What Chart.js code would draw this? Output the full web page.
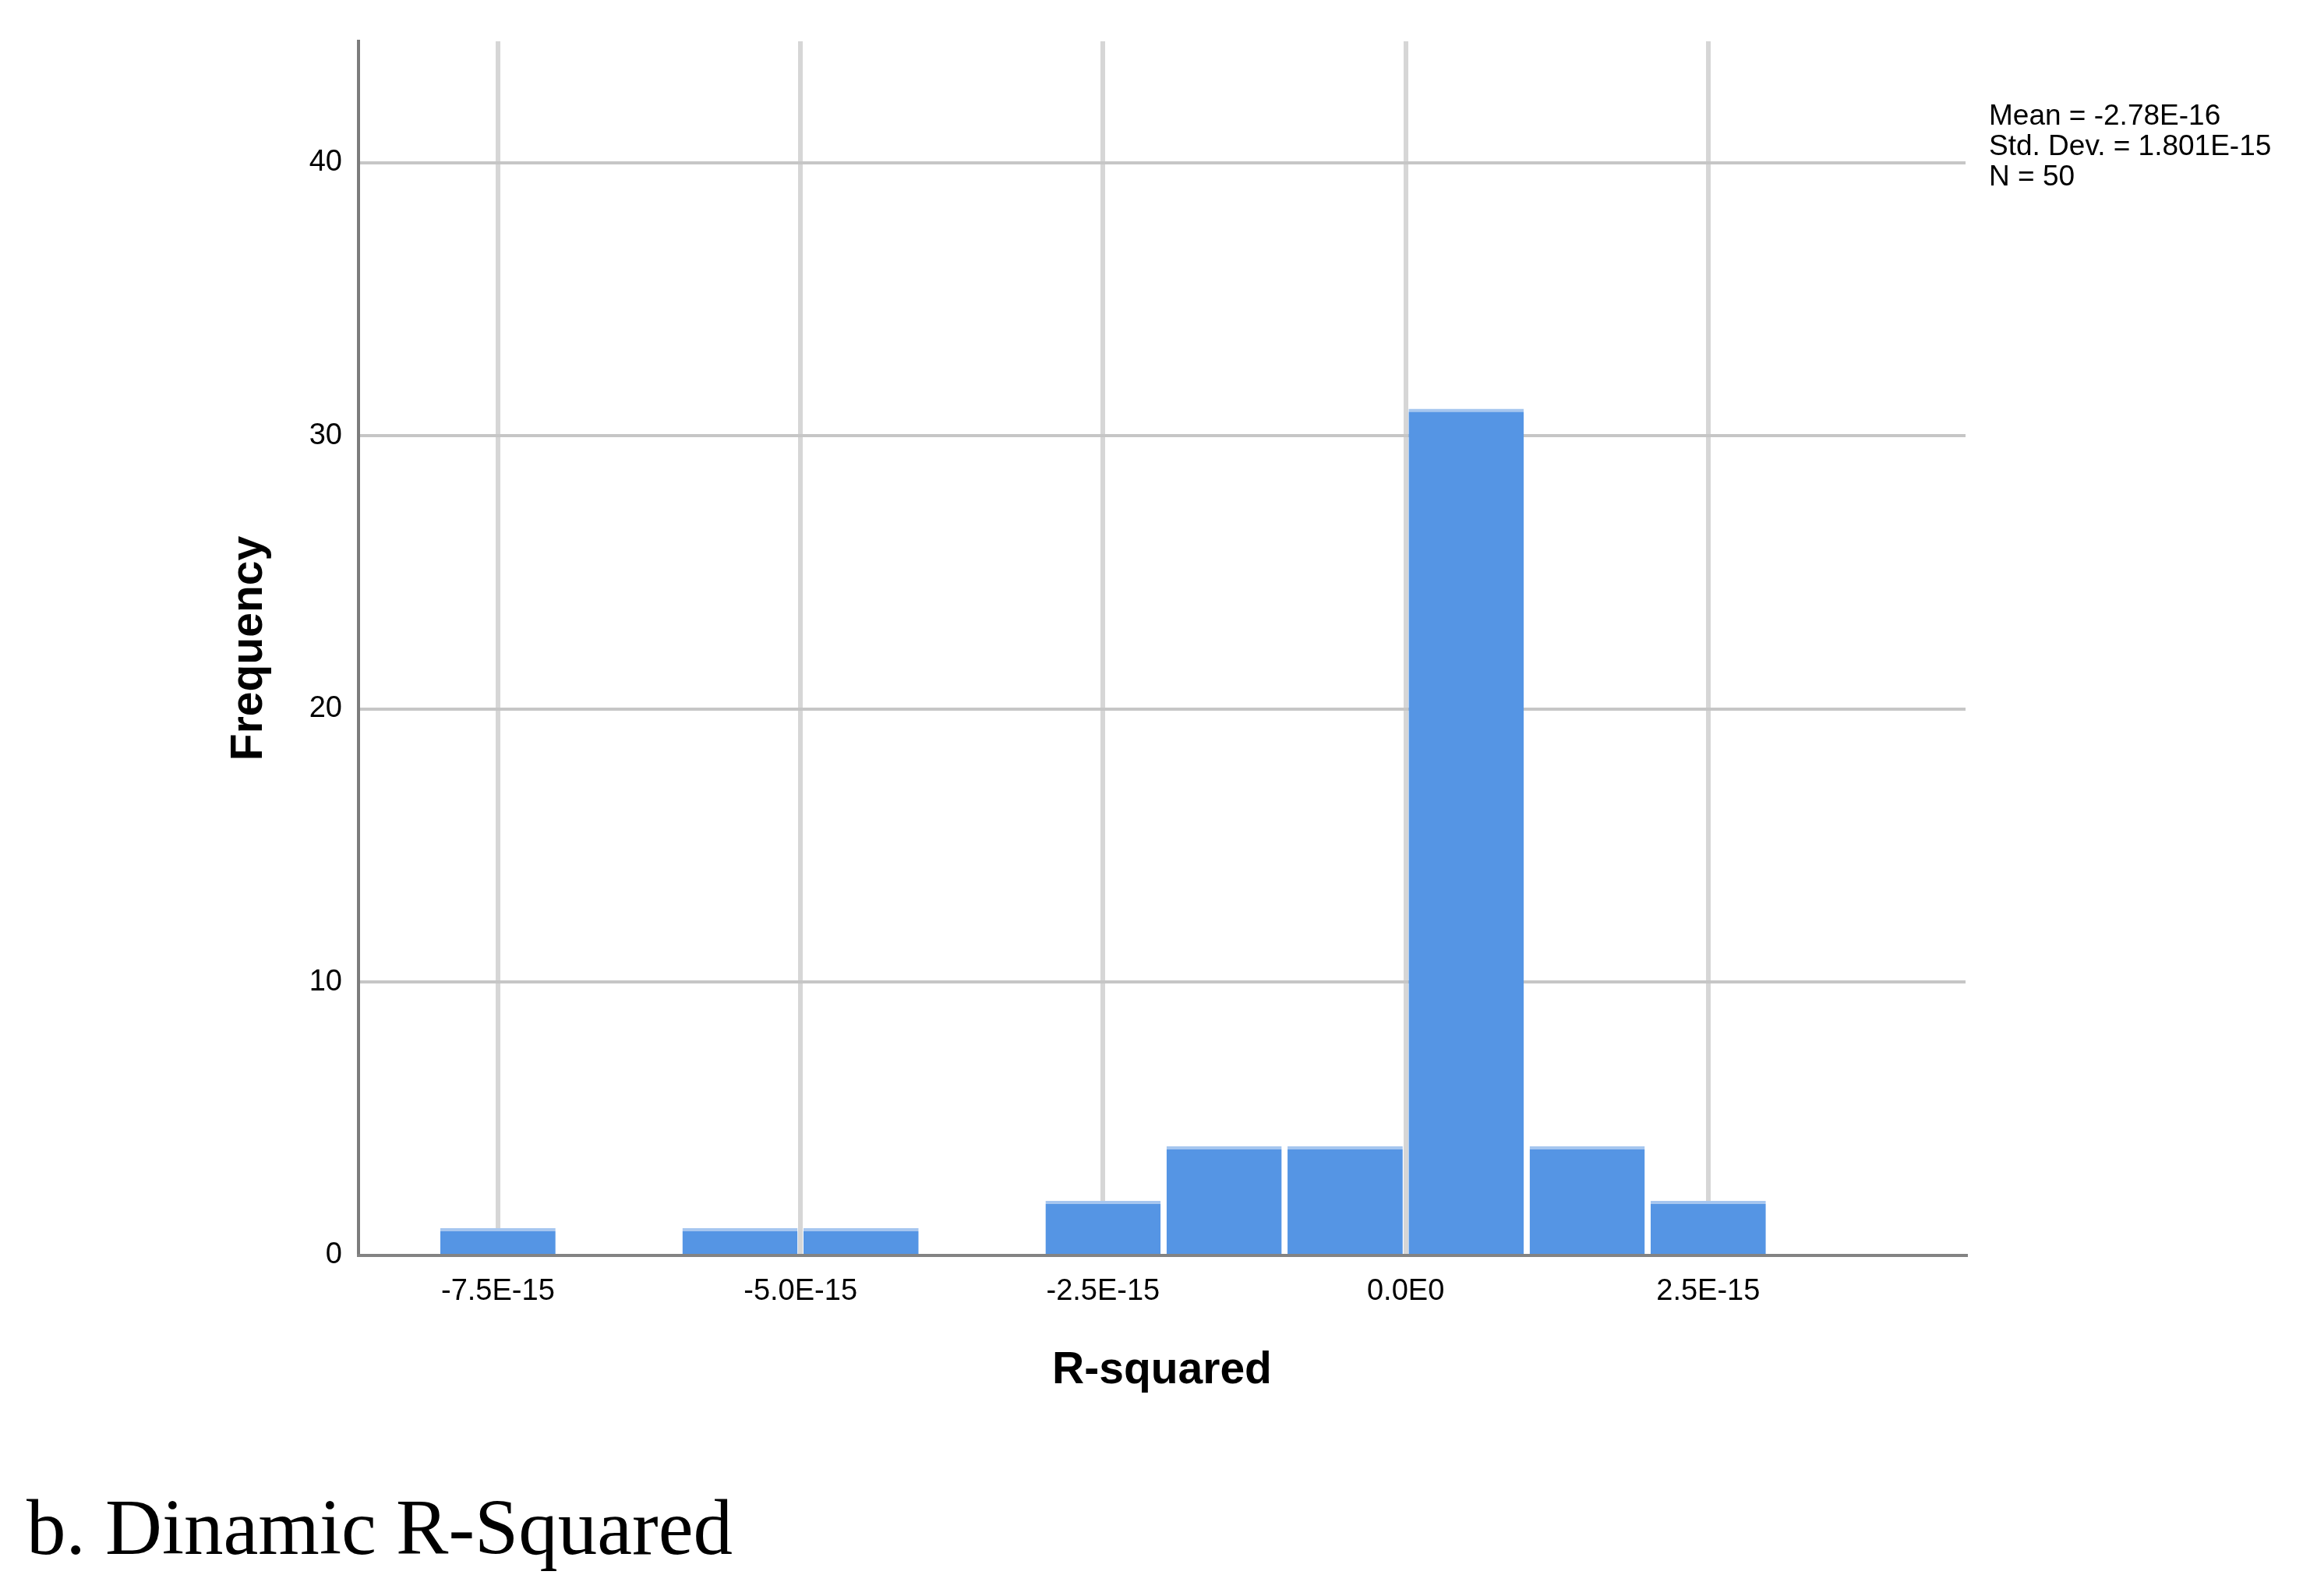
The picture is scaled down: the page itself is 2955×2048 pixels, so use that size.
<!DOCTYPE html>
<html>
<head>
<meta charset="utf-8">
<title>Dinamic R-Squared</title>
<script src="https://cdn.jsdelivr.net/npm/chart.js@4/dist/chart.umd.min.js"></script>
<style>
    body { margin: 0; background: #ffffff; }
    #wrap { position: relative; width: 2955px; height: 2048px; }
    #caption {
        position: absolute;
        left: 34px;
        top: 1910px;
        font-family: "Liberation Serif", "Times New Roman", serif;
        font-size: 101px;
        line-height: 100px;
        color: #000000;
        white-space: nowrap;
    }
</style>
</head>
<body>
<div id="wrap">
    <canvas id="histChart" width="2955" height="2048"></canvas>
    <div id="caption">b. Dinamic R-Squared</div>
</div>
<script>
// Histogram data (x in units of 1E-15, bins of width 1E-15)
const binCenters = [-7.5, -5.5, -4.5, -2.5, -1.5, -0.5, 0.5, 1.5, 2.5];
const frequencies = [1, 1, 1, 2, 4, 4, 31, 4, 2];

// Axis ticks
const xTickValues = [-7.5, -5, -2.5, 0, 2.5];
const xTickLabels = ["-7.5E-15", "-5.0E-15", "-2.5E-15", "0.0E0", "2.5E-15"];
const yTickValues = [0, 10, 20, 30, 40];

// Summary box text
const statLines = ["Mean = -2.78E-16", "Std. Dev. = 1.801E-15", "N = 50"];

const sansFont = "'Liberation Sans', Arial, sans-serif";

// Draw the summary statistics at the top right
const statsPlugin = {
    id: "statsText",
    afterDraw: (chart) => {
        const ctx = chart.ctx;
        ctx.save();
        ctx.font = `37px ${sansFont}`;
        ctx.fillStyle = "#000000";
        ctx.textAlign = "left";
        ctx.textBaseline = "alphabetic";
        statLines.forEach((line, i) => {
            ctx.fillText(line, 2552, 160 + i * 39);
        });
        ctx.restore();
    }
};

const ctx = document.getElementById("histChart").getContext("2d");

new Chart(ctx, {
    type: "bar",
    data: {
        datasets: [{
            label: "Frequency",
            data: binCenters.map((x, i) => ({ x: x, y: frequencies[i] })),
            backgroundColor: "#5595e4",
            borderColor: "#a6c6ef",
            borderWidth: { top: 4, left: 0, right: 0, bottom: 0 },
            borderSkipped: false,
            barPercentage: 0.952,
            categoryPercentage: 1.0
        }]
    },
    plugins: [statsPlugin],
    options: {
        responsive: false,
        animation: false,
        layout: {
            padding: { left: 0, top: 53, right: 433, bottom: 0 }
        },
        plugins: {
            legend: { display: false },
            tooltip: { enabled: false }
        },
        scales: {
            x: {
                type: "linear",
                offset: false,
                min: -8.652,
                max: 4.626,
                afterBuildTicks: (scale) => {
                    scale.ticks = xTickValues.map(v => ({ value: v }));
                },
                afterFit: (scale) => {
                    scale.height = 437;
                },
                ticks: {
                    autoSkip: false,
                    maxRotation: 0,
                    padding: 24,
                    color: "#000000",
                    font: { family: sansFont, size: 38 },
                    callback: (value) => {
                        const idx = xTickValues.indexOf(value);
                        return idx >= 0 ? xTickLabels[idx] : "";
                    }
                },
                grid: {
                    offset: false,
                    color: "#d6d6d6",
                    lineWidth: 6,
                    drawTicks: false
                },
                border: {
                    display: true,
                    color: "#838383",
                    width: 4,
                    z: 1
                },
                title: {
                    display: true,
                    text: "R-squared",
                    color: "#000000",
                    font: { family: sansFont, size: 57, weight: "bold" },
                    padding: { top: 0, bottom: 255 }
                }
            },
            y: {
                min: 0,
                max: 44.45,
                afterBuildTicks: (scale) => {
                    scale.ticks = yTickValues.map(v => ({ value: v }));
                },
                afterFit: (scale) => {
                    scale.width = 460;
                },
                ticks: {
                    padding: 21,
                    color: "#000000",
                    font: { family: sansFont, size: 38 }
                },
                grid: {
                    color: "#c6c6c6",
                    lineWidth: 4,
                    drawTicks: false
                },
                border: {
                    display: true,
                    color: "#7c7c7c",
                    width: 4
                },
                title: {
                    display: true,
                    text: "Frequency",
                    color: "#000000",
                    font: { family: sansFont, size: 57, weight: "bold" },
                    padding: { top: 286, bottom: 0 }
                }
            }
        }
    }
});
</script>
</body>
</html>
